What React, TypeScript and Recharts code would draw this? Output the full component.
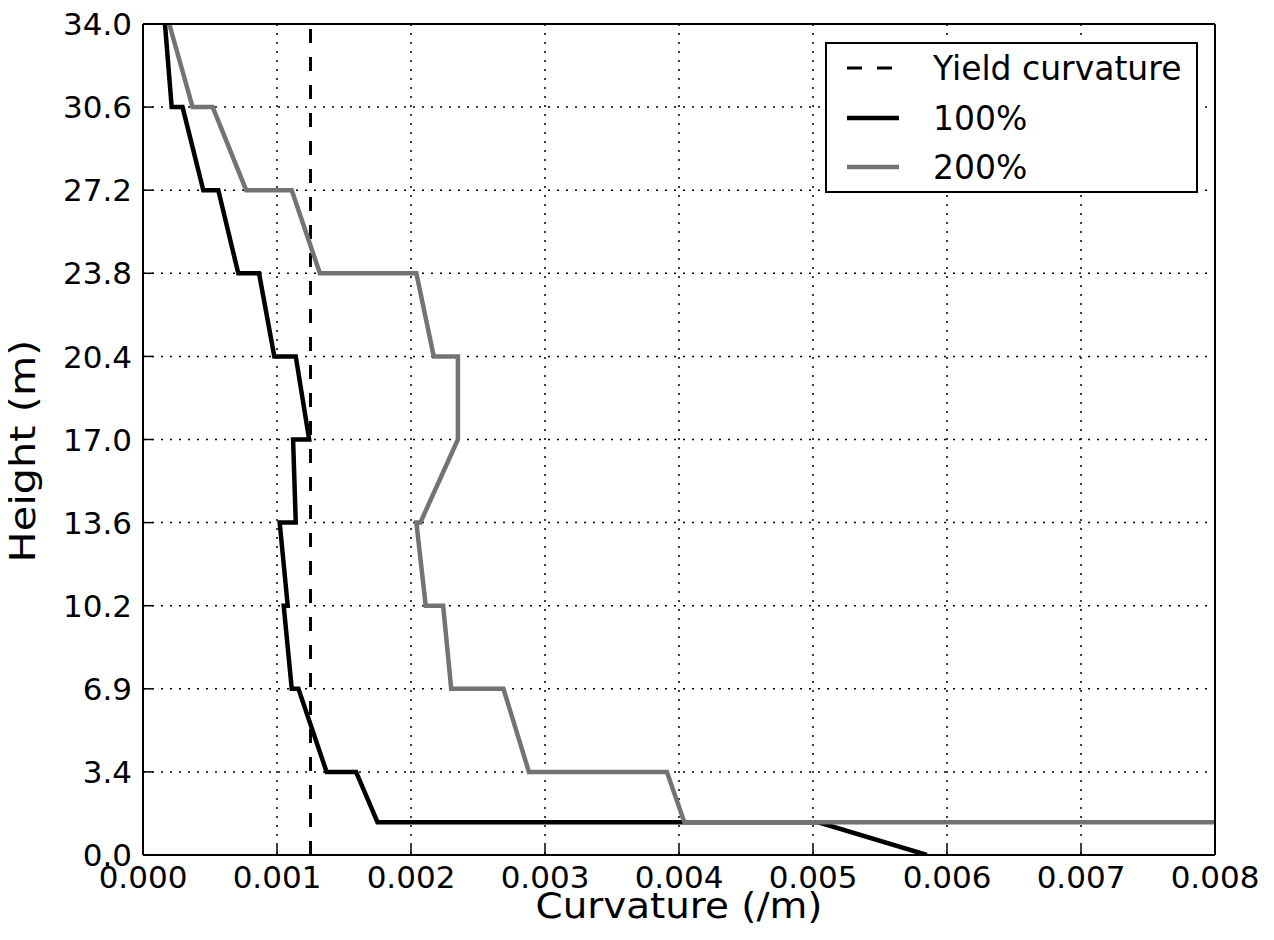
import React from 'react';
import { LineChart, Line, XAxis, YAxis, CartesianGrid, Legend } from 'recharts';

const xTicks = [0, 0.001, 0.002, 0.003, 0.004, 0.005, 0.006, 0.007, 0.008];
const yTicks = [0, 3.4, 6.8, 10.2, 13.6, 17.0, 20.4, 23.8, 27.2, 30.6, 34.0];
const yTickLabels = ['0.0', '3.4', '6.9', '10.2', '13.6', '17.0', '20.4', '23.8', '27.2', '30.6', '34.0'];

// yield curvature, drawn as a vertical dashed line
const yieldCurvature = [
  { x: 0.00125, y: 0 },
  { x: 0.00125, y: 34 },
];

// 100% intensity
const curvature100 = [
  { x: 0.000164, y: 34 },
  { x: 0.000214, y: 30.6 },
  { x: 0.000295, y: 30.6 },
  { x: 0.00045, y: 27.2 },
  { x: 0.000562, y: 27.2 },
  { x: 0.000711, y: 23.8 },
  { x: 0.000866, y: 23.8 },
  { x: 0.00098, y: 20.4 },
  { x: 0.00114, y: 20.4 },
  { x: 0.00124, y: 17.0 },
  { x: 0.00112, y: 17.0 },
  { x: 0.00114, y: 13.6 },
  { x: 0.00102, y: 13.6 },
  { x: 0.00108, y: 10.2 },
  { x: 0.00105, y: 10.2 },
  { x: 0.00111, y: 6.8 },
  { x: 0.00116, y: 6.8 },
  { x: 0.00137, y: 3.4 },
  { x: 0.00159, y: 3.4 },
  { x: 0.00175, y: 1.34 },
  { x: 0.00504, y: 1.34 },
  { x: 0.00585, y: 0 },
];

// 200% intensity
const curvature200 = [
  { x: 0.000196, y: 34 },
  { x: 0.00037, y: 30.6 },
  { x: 0.00052, y: 30.6 },
  { x: 0.00077, y: 27.2 },
  { x: 0.00111, y: 27.2 },
  { x: 0.00132, y: 23.8 },
  { x: 0.00204, y: 23.8 },
  { x: 0.00217, y: 20.4 },
  { x: 0.00235, y: 20.4 },
  { x: 0.00235, y: 17.0 },
  { x: 0.00207, y: 13.6 },
  { x: 0.00204, y: 13.6 },
  { x: 0.00211, y: 10.2 },
  { x: 0.00224, y: 10.2 },
  { x: 0.0023, y: 6.8 },
  { x: 0.00269, y: 6.8 },
  { x: 0.00288, y: 3.4 },
  { x: 0.00391, y: 3.4 },
  { x: 0.00404, y: 1.34 },
  { x: 0.008, y: 1.34 },
];

const FONT = '"DejaVu Sans", sans-serif';
const GRAY = '#737373';
const TICK_LEN = 10;

const BottomTick = ({ x, y, payload }: any) => (
  <g>
    <line x1={x} x2={x} y1={y - 10} y2={y - 10 - TICK_LEN} stroke="#000" strokeWidth={1.5} />
    <text x={x} y={y} dy="0.73em" textAnchor="middle" fontFamily={FONT} fontSize={31} fill="#000">
      {Number(payload.value).toFixed(3)}
    </text>
  </g>
);

const LeftTick = ({ x, y, payload }: any) => {
  const i = yTicks.findIndex((v) => Math.abs(v - payload.value) < 1e-9);
  return (
    <g>
      <line x1={x + 11} x2={x + 11 + TICK_LEN} y1={y} y2={y} stroke="#000" strokeWidth={1.5} />
      <text x={x} y={y} dy="0.36em" textAnchor="end" fontFamily={FONT} fontSize={31} fill="#000">
        {i >= 0 ? yTickLabels[i] : payload.value}
      </text>
    </g>
  );
};

const TopTick = ({ x, y }: any) => (
  <line x1={x} x2={x} y1={y} y2={y + TICK_LEN} stroke="#000" strokeWidth={1.5} />
);

const RightTick = ({ x, y }: any) => (
  <line x1={x - TICK_LEN} x2={x} y1={y} y2={y} stroke="#000" strokeWidth={1.5} />
);

const LegendBox = () => (
  <svg width={373} height={151}>
    <rect x={1} y={1} width={371} height={149} fill="#fff" stroke="#000" strokeWidth={2} />
    <line x1={22} x2={74} y1={26} y2={26} stroke="#000" strokeWidth={3} strokeDasharray="15 15" />
    <text x={108} y={26} dy="0.36em" fontFamily={FONT} fontSize={33}>Yield curvature</text>
    <line x1={22} x2={74} y1={76} y2={76} stroke="#000" strokeWidth={4.5} />
    <text x={108} y={76} dy="0.36em" fontFamily={FONT} fontSize={33}>100%</text>
    <line x1={22} x2={74} y1={125} y2={125} stroke={GRAY} strokeWidth={4.5} />
    <text x={108} y={125} dy="0.36em" fontFamily={FONT} fontSize={33}>200%</text>
  </svg>
);

export default function App() {
  return (
    <LineChart width={1258} height={924} margin={{ top: 15, right: 50, bottom: 0, left: 0 }}>
      <CartesianGrid stroke="#000" strokeWidth={1.5} strokeDasharray="2 7" />
      <XAxis
        dataKey="x"
        type="number"
        domain={[0, 0.008]}
        ticks={xTicks}
        interval={0}
        allowDataOverflow
        height={77}
        tickSize={0}
        tickMargin={10}
        tickLine={false}
        axisLine={{ stroke: '#000', strokeWidth: 2 }}
        tick={<BottomTick />}
        label={({ viewBox }: any) => (
          <text
            x={viewBox.x + viewBox.width / 2}
            y={viewBox.y + 63}
            textAnchor="middle"
            fontFamily={FONT}
            fontSize={36}
            textLength={287}
            lengthAdjust="spacingAndGlyphs"
          >
            Curvature (/m)
          </text>
        )}
      />
      <XAxis
        xAxisId="top"
        orientation="top"
        type="number"
        domain={[0, 0.008]}
        ticks={xTicks}
        interval={0}
        height={1}
        tickSize={0}
        tickMargin={0}
        tickLine={false}
        axisLine={{ stroke: '#000', strokeWidth: 2 }}
        tick={<TopTick />}
      />
      <YAxis
        dataKey="y"
        type="number"
        domain={[0, 34]}
        ticks={yTicks}
        interval={0}
        allowDataOverflow
        width={135}
        tickSize={0}
        tickMargin={11}
        tickLine={false}
        axisLine={{ stroke: '#000', strokeWidth: 2 }}
        tick={<LeftTick />}
        label={({ viewBox }: any) => (
          <text
            x={27}
            y={443}
            transform="rotate(-90 27 443)"
            textAnchor="middle"
            fontFamily={FONT}
            fontSize={36}
            textLength={223}
            lengthAdjust="spacingAndGlyphs"
          >
            Height (m)
          </text>
        )}
      />
      <YAxis
        yAxisId="right"
        orientation="right"
        type="number"
        domain={[0, 34]}
        ticks={yTicks}
        interval={0}
        width={1}
        tickSize={0}
        tickMargin={0}
        tickLine={false}
        axisLine={{ stroke: '#000', strokeWidth: 2 }}
        tick={<RightTick />}
      />
      <Legend
        layout="horizontal"
        verticalAlign="middle"
        align="center"
        wrapperStyle={{ position: 'absolute', left: 817, top: 34, width: 373, height: 151 }}
        content={() => <LegendBox />}
      />
      <Line
        data={yieldCurvature}
        dataKey="y"
        name="Yield curvature"
        stroke="#000"
        strokeWidth={3}
        strokeDasharray="14 14"
        dot={false}
        isAnimationActive={false}
      />
      <Line
        data={curvature100}
        dataKey="y"
        name="100%"
        stroke="#000"
        strokeWidth={4.5}
        dot={false}
        isAnimationActive={false}
      />
      <Line
        data={curvature200}
        dataKey="y"
        name="200%"
        stroke={GRAY}
        strokeWidth={4.5}
        dot={false}
        isAnimationActive={false}
      />
    </LineChart>
  );
}
